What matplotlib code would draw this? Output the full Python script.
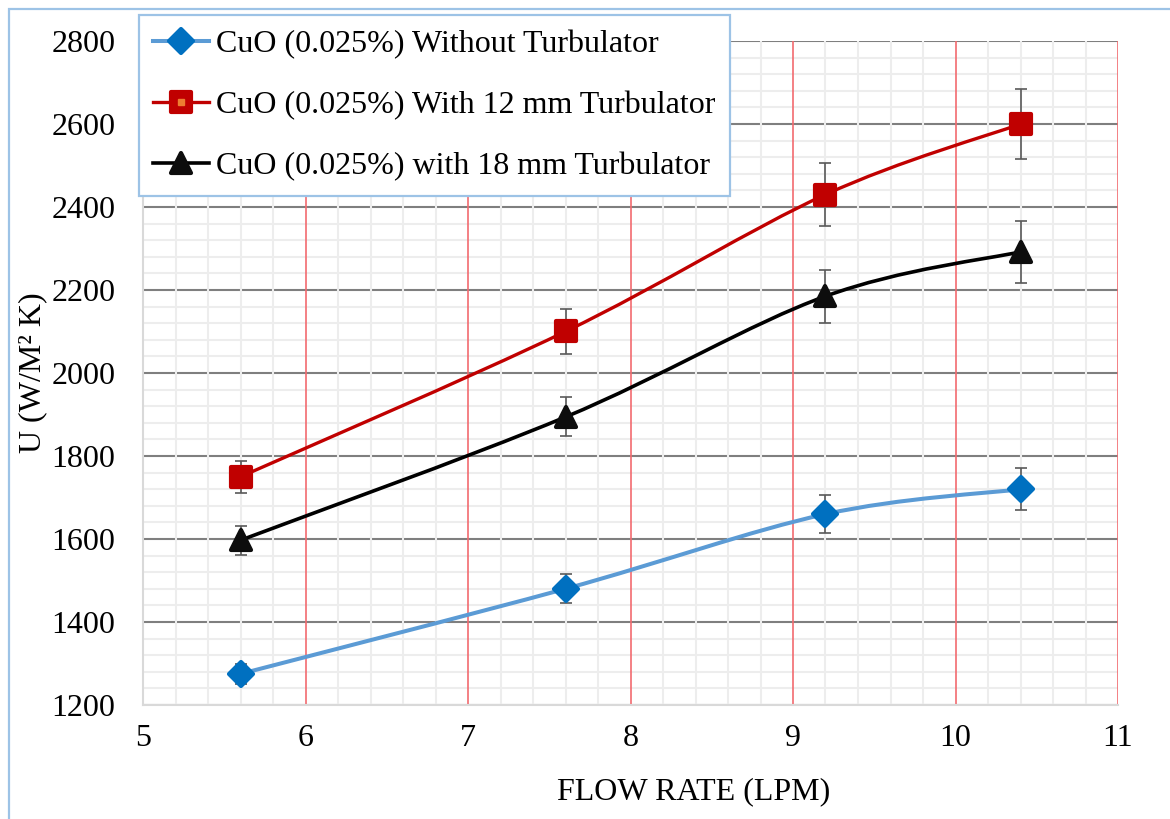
import numpy as np
import matplotlib
matplotlib.use("Agg")
import matplotlib.pyplot as plt
from matplotlib.path import Path
from matplotlib.patches import PathPatch, Rectangle
from matplotlib.lines import Line2D
from matplotlib.markers import MarkerStyle
from matplotlib.legend_handler import HandlerTuple
from matplotlib.ticker import MultipleLocator

plt.rcParams['font.family'] = ['Liberation Serif', 'DejaVu Serif']

# caudal (LPM) y coeficiente global U (W/m2 K)
flow = [5.6, 7.6, 9.2, 10.4]

u_plain = [1275, 1480, 1660, 1720]
err_plain = [25, 35, 45, 50]

u_12mm = [1750, 2100, 2430, 2600]
err_12mm = [38, 55, 75, 85]

u_18mm = [1597, 1894, 2185, 2292]
err_18mm = [35, 47, 64, 75]

labels = ['CuO (0.025%) Without Turbulator',
          'CuO (0.025%) With 12 mm Turbulator',
          'CuO (0.025%) with 18 mm Turbulator']


def smooth_path(xs, ys):
    # curva suavizada tipo Excel: Bezier cubica con tangentes Catmull-Rom
    p = np.column_stack([xs, ys]).astype(float)
    n = len(p)
    verts = [p[0]]
    codes = [Path.MOVETO]
    for i in range(n - 1):
        p0 = p[i - 1] if i > 0 else p[i]
        p1, p2 = p[i], p[i + 1]
        p3 = p[i + 2] if i + 2 < n else p[i + 1]
        verts += [p1 + (p2 - p0) / 6, p2 - (p3 - p1) / 6, p2]
        codes += [Path.CURVE4] * 3
    return Path(verts, codes)


fig = plt.figure(figsize=(11.7, 8.19), dpi=100)
ax = fig.add_axes([143 / 1170, 1 - 705 / 819, 975 / 1170, 664 / 819])

# borde del area del grafico
fig.patches.append(Rectangle((9 / 1170, -0.1), 1.2, 1.1 - 9 / 819,
                             transform=fig.transFigure, fill=False,
                             edgecolor='#9DC3E6', linewidth=1.6, zorder=0))

series = [
    (u_plain, err_plain, '#5B9BD5', '#0070C0', 'D', 12.5, 2.9),
    (u_12mm, err_12mm, '#C00000', '#C00000', 's', 14, 2.4),
    (u_18mm, err_18mm, '#000000', '#0D0D0D', '^', 15, 2.6),
]

handles = []
for ys, errs, lc, mc, mk, ms, lw in series:
    ax.errorbar(flow, ys, yerr=errs, fmt='none', ecolor='#595959',
                elinewidth=1.2, capsize=4.5, capthick=1.2, zorder=3)
    ax.add_patch(PathPatch(smooth_path(flow, ys), fill=False, edgecolor=lc,
                           linewidth=lw, capstyle='round', zorder=4))
    # marcadores con esquinas redondeadas
    marker = MarkerStyle(mk, joinstyle='round')
    ax.plot(flow, ys, linestyle='none', marker=marker, markersize=ms,
            markerfacecolor=mc, markeredgecolor=mc, markeredgewidth=3,
            zorder=5)
    handles.append(Line2D([], [], color=lc, linewidth=lw, marker=marker,
                          markersize=ms, markerfacecolor=mc,
                          markeredgecolor=mc, markeredgewidth=3))

# centro naranja del marcador cuadrado en la leyenda
dot = Line2D([], [], linestyle='none', marker='s', markersize=5,
             markerfacecolor='#ED7D31', markeredgecolor='#ED7D31')
handles[1] = (handles[1], dot)

ax.set_xlim(5, 11)
ax.set_ylim(1200, 2800)
ax.xaxis.set_major_locator(MultipleLocator(1))
ax.xaxis.set_minor_locator(MultipleLocator(0.2))
ax.yaxis.set_major_locator(MultipleLocator(200))
ax.yaxis.set_minor_locator(MultipleLocator(40))

ax.set_axisbelow(True)
ax.grid(True, which='minor', color='#EDEDED', linewidth=1.5)
ax.grid(True, which='major', axis='x', color='#F26B6F', linewidth=1.2)
ax.grid(True, which='major', axis='y', color='#7F7F7F', linewidth=1.5)
# las lineas verticales quedan por encima de las horizontales
ax.xaxis.set_zorder(0.6)
ax.yaxis.set_zorder(0.5)

for s in ['top', 'right']:
    ax.spines[s].set_visible(False)
for s in ['left', 'bottom']:
    ax.spines[s].set_color('#D9D9D9')
    ax.spines[s].set_linewidth(1.5)

ax.tick_params(axis='both', which='both', length=0, labelsize=23)
ax.tick_params(axis='x', pad=14)
ax.tick_params(axis='y', pad=20)

ax.set_xlabel('FLOW RATE (LPM)', fontsize=23, va='center')
ax.xaxis.set_label_coords(0.565, -0.13)
ax.set_ylabel('U (W/M\u00b2 K)', fontsize=23, labelpad=3)

leg = ax.legend(handles, labels, loc='upper left',
                bbox_to_anchor=(-0.004, 1.039), fontsize=23,
                frameon=True, fancybox=False, framealpha=1,
                edgecolor='#9DC3E6', borderpad=0.45, labelspacing=1.0,
                handlelength=1.75, handletextpad=0.22, borderaxespad=0,
                handler_map={tuple: HandlerTuple(ndivide=1, pad=0)})
leg.get_frame().set_linewidth(1.6)
leg.set_zorder(10)

fig.savefig('out.png', dpi=100)
